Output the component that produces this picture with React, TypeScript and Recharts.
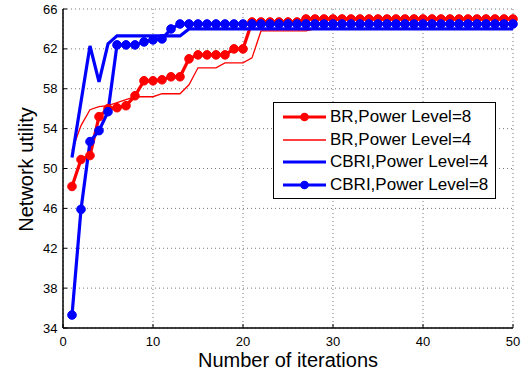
import { LineChart, Line, XAxis, YAxis, CartesianGrid, Legend } from 'recharts';

const iterations = [
  1, 2, 3, 4, 5, 6, 7, 8, 9, 10, 11, 12, 13, 14, 15, 16, 17, 18, 19, 20, 21, 22, 23, 24, 25,
  26, 27, 28, 29, 30, 31, 32, 33, 34, 35, 36, 37, 38, 39, 40, 41, 42, 43, 44, 45, 46, 47, 48, 49, 50,
];

const brLevel8 = [
  48.2, 50.9, 51.3, 55.2, 56.0, 56.1, 56.3, 57.3, 58.8, 58.8, 58.9, 59.2, 59.2, 61.0, 61.4, 61.4, 61.4, 61.4, 62.0, 62.0,
  64.7, 64.7, 64.7, 64.7, 64.7, 64.7, 65.0, 65.0, 65.0, 65.0, 65.0, 65.0, 65.0, 65.0, 65.0, 65.0, 65.0, 65.0, 65.0, 65.0,
  65.0, 65.0, 65.0, 65.0, 65.0, 65.0, 65.0, 65.0, 65.0, 65.0,
];

const brLevel4 = [
  51.8, 54.3, 55.9, 56.2, 56.3, 56.6, 56.9, 57.2, 57.2, 57.2, 57.5, 57.5, 57.5, 58.4, 60.1, 60.1, 60.1, 60.6, 60.6, 60.6,
  61.1, 63.8, 63.8, 63.8, 63.8, 63.8, 63.8, 64.0, 64.0, 64.0, 64.0, 64.0, 64.0, 64.0, 64.0, 64.0, 64.0, 64.0, 64.0, 64.0,
  64.0, 64.0, 64.0, 64.0, 64.0, 64.0, 64.0, 64.0, 64.0, 64.0,
];

const cbriLevel4 = [
  51.1, 56.7, 62.3, 58.7, 62.5, 63.3, 63.3, 63.3, 63.3, 63.3, 63.3, 63.3, 63.3, 64.0, 64.0, 64.0, 64.0, 64.0, 64.0, 64.0,
  64.0, 64.0, 64.0, 64.0, 64.0, 64.0, 64.0, 64.0, 64.0, 64.0, 64.0, 64.0, 64.0, 64.0, 64.0, 64.0, 64.0, 64.0, 64.0, 64.0,
  64.0, 64.0, 64.0, 64.0, 64.0, 64.0, 64.0, 64.0, 64.0, 64.0,
];

const cbriLevel8 = [
  35.3, 45.9, 52.7, 53.8, 55.7, 62.4, 62.4, 62.4, 62.7, 62.9, 63.0, 64.0, 64.5, 64.5, 64.5, 64.5, 64.5, 64.5, 64.5, 64.5,
  64.5, 64.5, 64.5, 64.5, 64.5, 64.5, 64.5, 64.5, 64.5, 64.5, 64.5, 64.5, 64.5, 64.5, 64.5, 64.5, 64.5, 64.5, 64.5, 64.5,
  64.5, 64.5, 64.5, 64.5, 64.5, 64.5, 64.5, 64.5, 64.5, 64.5,
];

const xTicks = [0, 10, 20, 30, 40, 50];
const yTicks = [34, 38, 42, 46, 50, 54, 58, 62, 66];

const seriesNames = [
  'BR,Power Level=8',
  'BR,Power Level=4',
  'CBRI,Power Level=4',
  'CBRI,Power Level=8',
];

const data = iterations.map((it, i) => ({
  it,
  br8: brLevel8[i],
  br4: brLevel4[i],
  cbri4: cbriLevel4[i],
  cbri8: cbriLevel8[i],
}));

const FONT = '"Liberation Sans", Arial, Helvetica, sans-serif';
const RED = '#ff0000';
const BLUE = '#0000ff';

// legend look for each series, same order as seriesNames
const legendStyle = [
  { color: RED, width: 3.2, dot: true },
  { color: RED, width: 1.3, dot: false },
  { color: BLUE, width: 3.2, dot: false },
  { color: BLUE, width: 3.2, dot: true },
];

const renderLegend = () => (
  <div
    style={{
      boxSizing: 'border-box',
      width: 223,
      height: 97,
      border: '1.5px solid #000',
      background: '#fff',
      paddingTop: 3,
      fontFamily: FONT,
    }}
  >
    {seriesNames.map((name, i) => (
      <div key={name} style={{ display: 'flex', alignItems: 'center', height: 22.6 }}>
        <svg width={56} height={22} style={{ flex: 'none' }}>
          <line x1={9} x2={52} y1={11} y2={11} stroke={legendStyle[i].color} strokeWidth={legendStyle[i].width} />
          {legendStyle[i].dot && <circle cx={30.5} cy={11} r={4.3} fill={legendStyle[i].color} />}
        </svg>
        <span style={{ fontSize: 17, color: '#000', whiteSpace: 'nowrap', lineHeight: '22px' }}>{name}</span>
      </div>
    ))}
  </div>
);

export default function App() {
  return (
    <div style={{ position: 'absolute', left: 0, top: 0, width: 529, height: 378, background: '#fff' }}>
      <LineChart
        width={529}
        height={378}
        data={data}
        margin={{ top: 9, right: 16, left: 0, bottom: 0 }}
        style={{ fontFamily: FONT }}
      >
        <CartesianGrid stroke="#777" strokeDasharray="1 3" />
        <XAxis
          dataKey="it"
          type="number"
          domain={[0, 50]}
          ticks={xTicks}
          interval={0}
          height={50}
          axisLine={{ stroke: '#000', strokeWidth: 1.5 }}
          tickLine={{ stroke: '#000' }}
          tickSize={-4}
          tickMargin={12.5}
          tick={{ fontSize: 13, fill: '#000', fontFamily: FONT }}
          label={{
            content: ({ viewBox }: any) => (
              <text
                x={viewBox.x + viewBox.width / 2}
                y={viewBox.y + 38.5}
                textAnchor="middle"
                fontSize={20}
                fontFamily={FONT}
                fill="#000"
              >
                Number of iterations
              </text>
            ),
          }}
        />
        <XAxis
          xAxisId="top"
          orientation="top"
          type="number"
          domain={[0, 50]}
          ticks={[10, 20, 30, 40]}
          height={0}
          axisLine={{ stroke: '#000', strokeWidth: 1.5 }}
          tickLine={{ stroke: '#000' }}
          tickSize={-4}
          tick={false}
        />
        <YAxis
          type="number"
          domain={[34, 66]}
          ticks={yTicks}
          interval={0}
          width={63}
          axisLine={{ stroke: '#000', strokeWidth: 1.5 }}
          tickLine={{ stroke: '#000' }}
          tickSize={-4}
          tickMargin={9.5}
          tick={{ fontSize: 13, fill: '#000', fontFamily: FONT }}
          label={{
            content: ({ viewBox }: any) => {
              const cx = 32.5;
              const cy = viewBox.y + viewBox.height / 2 + 1;
              return (
                <text
                  x={cx}
                  y={cy}
                  transform={`rotate(-90, ${cx}, ${cy})`}
                  textAnchor="middle"
                  fontSize={20}
                  fontFamily={FONT}
                  fill="#000"
                >
                  Network utility
                </text>
              );
            },
          }}
        />
        <YAxis
          yAxisId="right"
          orientation="right"
          type="number"
          domain={[34, 66]}
          ticks={[38, 42, 46, 50, 54, 58, 62]}
          width={0}
          axisLine={{ stroke: '#000', strokeWidth: 1.5 }}
          tickLine={{ stroke: '#000' }}
          tickSize={-4}
          tick={false}
        />
        <Legend
          layout="vertical"
          align="center"
          verticalAlign="middle"
          content={renderLegend}
          wrapperStyle={{ left: 273, top: 102, width: 223, height: 97 }}
        />
        <Line
          type="linear"
          dataKey="br8"
          name={seriesNames[0]}
          stroke={RED}
          strokeWidth={3.2}
          dot={{ r: 4.3, fill: RED, stroke: RED, strokeWidth: 1 }}
          isAnimationActive={false}
        />
        <Line
          type="linear"
          dataKey="br4"
          name={seriesNames[1]}
          stroke={RED}
          strokeWidth={1.3}
          dot={false}
          isAnimationActive={false}
        />
        <Line
          type="linear"
          dataKey="cbri4"
          name={seriesNames[2]}
          stroke={BLUE}
          strokeWidth={3.2}
          dot={false}
          isAnimationActive={false}
        />
        <Line
          type="linear"
          dataKey="cbri8"
          name={seriesNames[3]}
          stroke={BLUE}
          strokeWidth={3.2}
          dot={{ r: 4.3, fill: BLUE, stroke: BLUE, strokeWidth: 1 }}
          isAnimationActive={false}
        />
      </LineChart>
    </div>
  );
}
